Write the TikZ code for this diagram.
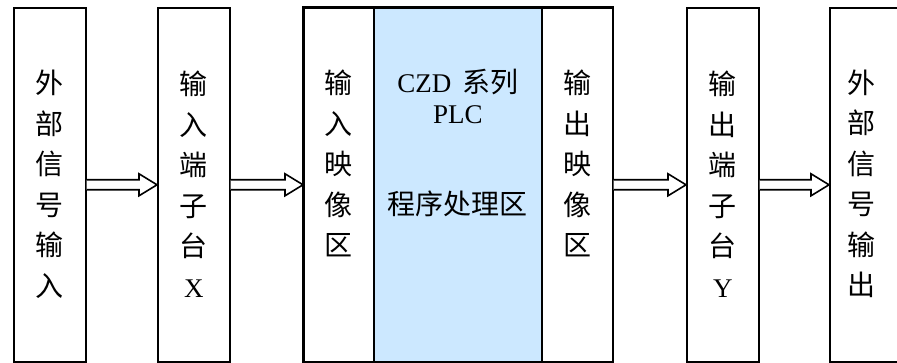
\documentclass[tikz,border=0pt]{standalone}
\usepackage{fontspec}
\setmainfont{Liberation Serif}
\newfontfamily\cjk{Noto Sans CJK SC}
\usetikzlibrary{calc}
\definecolor{plcblue}{RGB}{204,232,255}
\newcommand{\LT}[1]{{\rmfamily\fontsize{27}{40.5}\selectfont #1}}
\tikzset{
  box/.style={draw=black, line width=1.6pt, minimum height=354pt, inner sep=0pt, anchor=north west},
  vtext/.style={align=center, inner sep=0pt, font=\cjk\fontsize{28}{40.5}\selectfont},
  htext/.style={inner sep=0pt, font=\cjk\fontsize{28}{32}\selectfont},
  hollow/.style={draw=black, line width=1.6pt, fill=white, line join=miter}
}
\newcommand{\harrow}[2]{%
  \draw[hollow] ($(#1.east)+(0,-5)$) -- ($(#2.west)+(-18,-5)$) -- ($(#2.west)+(-18,-11)$)
    -- (#2.west) -- ($(#2.west)+(-18,11)$) -- ($(#2.west)+(-18,5)$) -- ($(#1.east)+(0,5)$);}
\begin{document}
\begin{tikzpicture}[x=1pt,y=-1pt]
\useasboundingbox (0,0) rectangle (897,363);
\node[box, minimum width=72pt] (b1) at (13,7) {};
\node[box, minimum width=72pt] (b2) at (157,7) {};
\node[box, minimum width=70pt] (b3) at (303,7) {};
\node[box, minimum width=168pt, fill=plcblue] (plc) at (373,7) {};
\node[box, minimum width=71pt] (b5) at (541,7) {};
\node[box, minimum width=72pt] (b6) at (686,7) {};
\node[box, minimum width=80pt] (b7) at (829,7) {};
\draw[line width=1.6pt] (b3.north west) rectangle (b5.south east);

\node[vtext] (t1) at (b1 |- 0,184) {外\\部\\信\\号\\输\\入};
\node[vtext] (t2) at (b2 |- 0,184) {输\\入\\端\\子\\台\\\LT{X}};
\node[vtext] (t3) at (b3 |- 0,163.5) {输\\入\\映\\像\\区};
\node[htext] (p1) at (plc |- 0,82) {\LT{CZD\hskip 11pt\relax}系列};
\node[htext] (p2) at (plc |- 0,115) {\LT{PLC}};
\node[htext] (p3) at (plc |- 0,204) {程序处理区};
\node[vtext] (t5) at (b5 |- 0,163.5) {输\\出\\映\\像\\区};
\node[vtext] (t6) at (b6 |- 0,184) {输\\出\\端\\子\\台\\\LT{Y}};
\node[vtext] (t7) at (861,184) {外\\部\\信\\号\\输\\出};

\harrow{b1}{b2}
\harrow{b2}{b3}
\harrow{b5}{b6}
\harrow{b6}{b7}
\end{tikzpicture}
\end{document}
